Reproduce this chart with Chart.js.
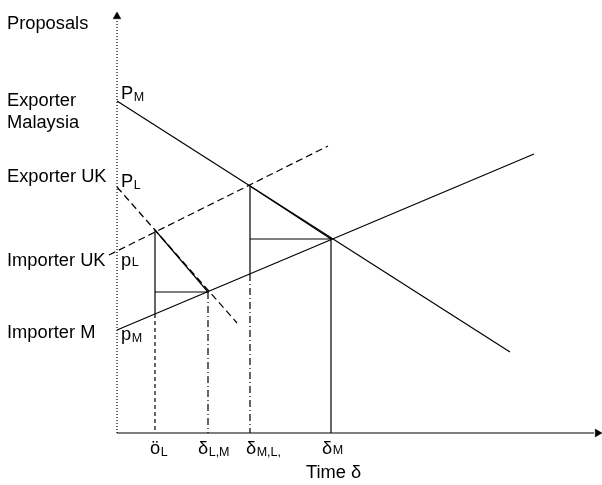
<!DOCTYPE html>
<html>
<head>
<meta charset="utf-8">
<script src="https://cdn.jsdelivr.net/npm/chart.js@4"></script>
<style>
  html, body { margin: 0; padding: 0; background: #fff; }
  #wrap { width: 602px; height: 485px; }
</style>
</head>
<body>
<div id="wrap"><canvas id="chart" width="602" height="485"></canvas></div>
<script>
// proposal lines, x = time, y = proposal level
const exporterMalaysia = [[0, 332], [393, 81]];   // P_M, solid
const importerMalaysia = [[0, 103], [417, 279]];  // p_M, solid
const importerUK = [[-8, 178], [211, 287]];       // p_L, dashed
const exporterUK = [[0, 246], [120, 110]];        // P_L, dashed

// agreement points
const deltaL = 38, deltaLM = 91, deltaML = 133, deltaM = 214;
const leftTriangle = [[deltaL, 119], [deltaL, 203], [deltaLM, 141], [deltaL, 141]];
const rightTriangle = [[deltaML, 159], [deltaML, 247], [deltaM, 194], [deltaML, 194]];
const dropL = [[deltaL, 119], [deltaL, 0]];
const dropLM = [[deltaLM, 141], [deltaLM, 0]];
const dropML = [[deltaML, 159], [deltaML, 0]];
const dropM = [[deltaM, 194], [deltaM, 0]];

const X_MAX = 485, Y_MAX = 421;

// text annotations: parts are [text, subOffset]
const annotations = [
    { x: -110, y: 404, parts: [['Proposals']] },
    { x: -110, y: 327, parts: [['Exporter']] },
    { x: -110, y: 305, parts: [['Malaysia']] },
    { x: -110, y: 251, parts: [['Exporter UK']] },
    { x: -110, y: 167, parts: [['Importer UK']] },
    { x: -110, y: 95, parts: [['Importer M']] },
    { x: 4, y: 334, parts: [['P'], ['M', 2]] },
    { x: 4, y: 246, parts: [['P'], ['L', 2]] },
    { x: 4, y: 167, parts: [['p'], ['L', 0]] },
    { x: 4, y: 93, parts: [['p'], ['M', 2]] },
    { x: 33, y: -21, parts: [['ö'], ['L', 2]] },
    { x: 81, y: -21, parts: [['δ'], ['L,M', 2]] },
    { x: 129, y: -21, parts: [['δ'], ['M,L,', 2]] },
    { x: 205, y: -21, parts: [['δ'], ['M', 0]] },
    { x: 189, y: -45, parts: [['Time δ']] }
];

const FONT = '"Liberation Sans", Arial, sans-serif';

const pts = arr => arr.map(p => ({ x: p[0], y: p[1] }));

function seg(data, dash) {
    return {
        data: pts(data),
        showLine: true,
        borderColor: '#000',
        borderWidth: 1.2,
        borderDash: dash || [],
        pointRadius: 0,
        tension: 0,
        clip: false
    };
}

const textPlugin = {
    id: 'textLabels',
    afterDraw(chart) {
        const { ctx, scales } = chart;
        ctx.save();
        ctx.fillStyle = '#000';
        ctx.textBaseline = 'alphabetic';
        ctx.textAlign = 'left';
        annotations.forEach(a => {
            let px = scales.x.getPixelForValue(a.x);
            const py = scales.y.getPixelForValue(a.y);
            a.parts.forEach(p => {
                const sub = p.length > 1;
                ctx.font = (sub ? '12.5px ' : '18.3px ') + FONT;
                ctx.fillText(p[0], px, py + (sub ? p[1] : 0));
                px += ctx.measureText(p[0]).width + (sub ? 0 : 0.5);
            });
        });
        ctx.restore();
    }
};

new Chart(document.getElementById('chart'), {
    type: 'scatter',
    data: {
        datasets: [
            seg([[0, 0], [0, 414]], [1, 2]),
            seg([[0, 0], [477, 0]]),
            {
                data: [{ x: 0, y: 416.5 }, { x: 480.5, y: 0 }],
                pointStyle: 'triangle',
                rotation: [0, 90],
                pointRadius: 4.5,
                pointBackgroundColor: '#000',
                pointBorderColor: '#000',
                pointBorderWidth: 0.5,
                clip: false
            },
            seg(exporterMalaysia),
            seg(importerMalaysia),
            seg(importerUK, [7, 4]),
            seg(exporterUK, [7, 4]),
            seg(leftTriangle),
            seg(rightTriangle),
            seg(dropL, [4, 3]),
            seg(dropLM, [7, 3, 1, 3]),
            seg(dropML, [7, 3, 1, 3]),
            seg(dropM)
        ]
    },
    options: {
        responsive: false,
        animation: false,
        layout: { autoPadding: false, padding: { left: 117, right: 0, top: 12, bottom: 52 } },
        plugins: { legend: { display: false }, tooltip: { enabled: false } },
        scales: {
            x: { type: 'linear', min: 0, max: X_MAX, display: false },
            y: { type: 'linear', min: 0, max: Y_MAX, display: false }
        }
    },
    plugins: [textPlugin]
});
</script>
</body>
</html>
